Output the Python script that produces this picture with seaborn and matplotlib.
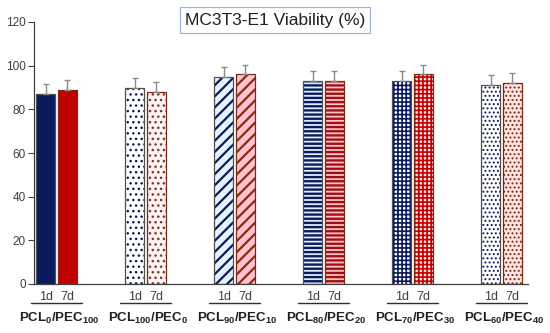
import numpy as np
import pandas as pd
import matplotlib
matplotlib.use("Agg")
import matplotlib.pyplot as plt
import matplotlib.transforms as mtransforms
from matplotlib.patches import Rectangle
import seaborn as sns

# ---------------- data ----------------
groups = ["PCL0/PEC100", "PCL100/PEC0", "PCL90/PEC10", "PCL80/PEC20", "PCL70/PEC30", "PCL60/PEC40"]
group_labels = [r"PCL$_\mathbf{0}$/PEC$_\mathbf{100}$",
                r"PCL$_\mathbf{100}$/PEC$_\mathbf{0}$",
                r"PCL$_\mathbf{90}$/PEC$_\mathbf{10}$",
                r"PCL$_\mathbf{80}$/PEC$_\mathbf{20}$",
                r"PCL$_\mathbf{70}$/PEC$_\mathbf{30}$",
                r"PCL$_\mathbf{60}$/PEC$_\mathbf{40}$"]
days = ["1d", "7d"]
viab_1d = [87, 90, 95, 93, 93, 91]
viab_7d = [89, 88, 96, 93, 96, 92]
err_1d = [4.5, 4.5, 4.5, 4.5, 4.5, 4.5]
err_7d = [4.5, 4.5, 4.5, 4.5, 4.5, 4.5]
title = "MC3T3-E1 Viability (%)"

# ---------------- styles ----------------
navy = "#0b1a5c"
styles_1d = [  # (face, hatch colour, hatch, hatch lw)
    (navy, navy, "", 0.0),
    ("#ffffff", navy, "...", 1.0),
    ("#e4f4ff", navy, "///", 1.6),
    ("#dcefff", navy, "----", 1.7),
    ("#ffffff", navy, "++++", 1.2),
    ("#ffffff", navy, "....", 0.9),
]
styles_7d = [
    ("#c00000", "#c00000", "", 0.0),
    ("#fff2f2", "#7a3520", "...", 1.0),
    ("#ffc4d0", "#8a2a10", "///", 1.6),
    ("#ffc4d0", "#a01010", "----", 1.7),
    ("#ffe0e0", "#c00000", "++++", 1.2),
    ("#ffe4e4", "#7a2a10", "....", 0.9),
]

df = pd.DataFrame({
    "group": groups * 2,
    "day": [days[0]] * len(groups) + [days[1]] * len(groups),
    "value": viab_1d + viab_7d,
    "err": err_1d + err_7d,
})

sns.set_theme(style="white")
plt.rcParams["font.family"] = ["Liberation Sans", "DejaVu Sans"]
plt.rcParams["mathtext.fontset"] = "custom"
plt.rcParams["mathtext.rm"] = "Liberation Sans"
plt.rcParams["mathtext.bf"] = "Liberation Sans:bold"
plt.rcParams["hatch.linewidth"] = 1.5

fig = plt.figure(figsize=(5.5, 3.33), dpi=100)
ax = fig.add_axes([34 / 550, 1 - 284 / 333, 494 / 550, 262 / 333])

sns.barplot(data=df, x="group", y="value", hue="day", order=groups, hue_order=days,
            width=0.483, gap=0.118, errorbar=None, legend=False, ax=ax,
            palette=["#0b1a5c", "#c00000"])

# restyle bars
bars = sorted([p for p in ax.patches if isinstance(p, Rectangle) and p.get_height() > 0],
              key=lambda p: p.get_x())
centers, heights, errs = [], [], []
for p in bars:
    cx = p.get_x() + p.get_width() / 2
    gi = int(round(cx))
    di = 0 if cx < gi else 1
    face, hc, hatch, hlw = (styles_1d if di == 0 else styles_7d)[gi]
    p.set_facecolor(face)
    p.set_edgecolor(hc)
    p.set_hatch(hatch)
    p.set_linewidth(0)
    try:
        p.set_hatch_linewidth(hlw)
    except Exception:
        pass
    outline = Rectangle((p.get_x(), 0), p.get_width(), p.get_height(), fill=False,
                        edgecolor="#505050" if di == 0 else "#7a2a10", lw=0.9, zorder=p.get_zorder() + 0.1)
    ax.add_patch(outline)
    centers.append(cx)
    heights.append([viab_1d, viab_7d][di][gi])
    errs.append([err_1d, err_7d][di][gi])

ax.errorbar(centers, heights, yerr=[np.zeros(len(errs)), errs], fmt="none",
            ecolor="#8a8a8a", elinewidth=1.0, capsize=2.2, capthick=1.0, zorder=5)

ax.set_xlim(-0.253, 5.30)
ax.set_ylim(0, 120)
ax.set_yticks(np.arange(0, 121, 20))
ax.tick_params(axis="y", left=True, length=4, width=0.8, color="#404040",
               labelsize=8.5, labelcolor="#404040", pad=2)
ax.set_xticks([])
ax.set_xlabel("")
ax.set_ylabel("")
for s in ["top", "right"]:
    ax.spines[s].set_visible(False)
for s in ["left", "bottom"]:
    ax.spines[s].set_color("#404040")
    ax.spines[s].set_linewidth(0.9)

trans = mtransforms.blended_transform_factory(ax.transData, ax.transAxes)
for cx in centers:
    gi = int(round(cx))
    di = 0 if cx < gi else 1
    ax.text(cx, -0.05, days[di], transform=trans, ha="center", va="center",
            fontsize=9, color="#404040")
for gi, lab in enumerate(group_labels):
    ax.plot([gi - 0.29, gi + 0.29], [-0.073, -0.073], transform=trans, color="#303030",
            lw=1.0, clip_on=False)
    ax.text(gi + 0.03, -0.13, lab, transform=trans, ha="center", va="center",
            fontsize=9.5, fontweight="bold", color="#202020")

fig.text(0.5, 1 - 20 / 333, title, ha="center", va="center", fontsize=12.5, color="#202020",
         bbox=dict(boxstyle="square,pad=0.3", facecolor="white", edgecolor="#9fb4dc", lw=0.9))

fig.savefig("out.png", dpi=100)
